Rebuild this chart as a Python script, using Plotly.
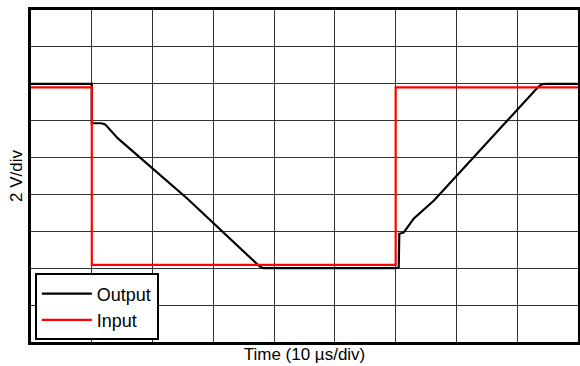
import plotly.graph_objects as go

# Scope trace: time in microseconds, amplitude in volts (10 us/div, 2 V/div)
input_t = [0, 10, 10, 60, 60, 90]
input_v = [4.8, 4.8, -4.82, -4.82, 4.8, 4.8]

output_t = [0, 10, 10, 11.6, 12.2, 14.3, 25.7, 37.6, 38.2, 60, 60.5, 60.6, 60.6,
            61.3, 63.0, 66.3, 76.8, 83.4, 84.0, 84.8, 90]
output_v = [5.0, 5.0, 2.86, 2.86, 2.8, 2.04, -1.22, -4.9, -5.0, -5.0, -4.95, -3.78, -3.13,
            -3.07, -2.3, -1.33, 2.47, 4.81, 4.97, 5.0, 5.0]

fig = go.Figure()
fig.add_trace(go.Scatter(x=output_t, y=output_v, mode="lines", name="Output",
                         line=dict(color="black", width=2.2)))
fig.add_trace(go.Scatter(x=input_t, y=input_v, mode="lines", name="Input",
                         line=dict(color="#ff0000", width=2.2)))

axis_common = dict(showticklabels=False, ticks="", showline=True, mirror=True,
                   linecolor="black", linewidth=3, showgrid=True,
                   gridcolor="#333333", gridwidth=1, zeroline=False,
                   automargin=False, fixedrange=True)

fig.update_layout(
    width=580, height=366,
    margin=dict(l=31, r=2, t=10, b=24),
    paper_bgcolor="white", plot_bgcolor="white",
    font=dict(family="Liberation Sans, Arial, sans-serif", color="black", size=17),
    xaxis=dict(range=[0, 90], dtick=10, tick0=0,
               title=dict(text="Time (10 µs/div)", standoff=5, font=dict(size=17)),
               **axis_common),
    yaxis=dict(range=[-9, 9], dtick=2, tick0=-9,
               title=dict(text="2 V/div", standoff=2, font=dict(size=17)),
               **axis_common),
    legend=dict(x=0.007, y=0.005, xanchor="left", yanchor="bottom",
                bgcolor="white", bordercolor="black", borderwidth=2,
                font=dict(size=18), itemwidth=50, tracegroupgap=0),
    showlegend=True,
)

fig.write_html("out.html")
